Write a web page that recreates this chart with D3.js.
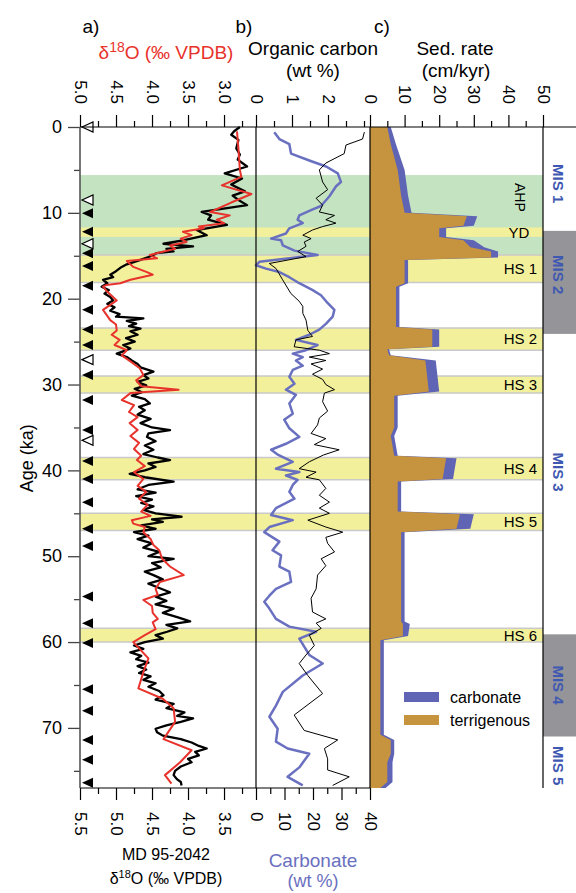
<!DOCTYPE html>
<html><head><meta charset="utf-8">
<script src="https://cdn.jsdelivr.net/npm/d3@7"></script>
<style>body{margin:0;background:#fff} svg{display:block;font-family:'Liberation Sans',Arial,sans-serif}</style>
</head><body><svg id="c" width="576" height="893"></svg>
<script>
// ---------------- DATA ----------------
const ageTicks = [0,10,20,30,40,50,60,70];
const ageMinor = [5,15,25,35,45,55,65,75];

// planktonic d18O (red, top axis)
const redAge = [0.5,2.5,5.0,5.8,6.8,7.8,8.8,9.9,10.3,10.8,11.2,11.6,11.8,12.2,12.6,13.0,13.4,13.8,14.2,14.5,14.9,15.3,15.6,16.0,16.3,16.9,17.2,17.8,18.2,18.4,18.6,19.2,20.2,21.3,22.5,23.0,23.7,24.2,24.8,25.4,26.0,26.6,27.3,28.1,28.9,29.5,30.2,30.6,31.0,31.8,32.4,33.2,33.8,34.5,35.3,36.0,36.8,37.5,38.3,38.8,39.5,40.2,41.0,41.8,42.5,43.3,44.0,44.8,45.3,45.8,46.2,46.6,47.2,48.0,48.7,49.3,50.3,51.2,52.2,53.0,53.8,54.5,55.1,55.8,56.6,57.3,57.7,58.5,59.2,60.0,61.9,63.5,65.4,66.6,67.7,69.3,71.3,72.6,74.0,75.5,76.5];
const redD18O = [2.82,2.80,2.78,2.76,3.03,2.62,2.90,3.19,2.92,3.10,3.00,3.35,3.28,3.57,3.45,3.60,3.52,3.75,3.68,3.84,4.03,3.93,4.35,4.30,4.26,4.07,3.99,4.30,4.44,4.63,4.68,4.62,4.49,4.68,4.58,4.50,4.49,4.56,4.45,4.52,4.35,4.42,4.30,4.17,4.12,4.22,4.15,3.63,4.30,4.42,4.25,4.32,4.20,4.31,4.20,4.30,4.18,4.25,4.15,4.21,4.10,4.25,4.12,4.20,4.08,4.18,4.06,4.15,4.02,4.28,4.26,4.10,4.12,4.02,3.98,3.90,3.86,3.75,3.56,3.89,3.95,3.92,4.12,4.00,3.99,3.92,3.99,3.95,4.10,4.26,4.05,4.12,4.19,3.85,3.70,3.68,3.84,3.45,3.61,3.82,3.73];

// MD 95-2042 d18O (black, bottom axis)
const blackAge = [0.0,0.5,0.9,1.5,2.5,3.2,3.8,4.6,5.4,6.0,6.7,7.5,8.0,8.5,9.1,9.9,10.3,10.8,11.4,12.0,12.6,13.2,13.6,13.9,14.2,14.5,14.7,15.0,15.5,16.0,16.4,16.8,17.2,17.5,17.8,18.2,18.6,19.0,19.4,19.8,20.2,20.6,21.0,21.4,21.8,22.1,22.3,22.6,22.9,23.2,23.5,23.8,24.2,24.6,25.0,25.4,25.8,26.2,26.4,26.8,27.2,27.6,28.0,28.5,28.9,29.3,29.7,30.1,30.5,30.9,31.3,31.7,32.2,32.6,33.0,33.5,34.0,34.5,35.0,35.3,35.7,36.1,36.6,37.1,37.6,38.1,38.5,38.8,39.2,39.6,40.0,40.4,40.8,41.3,41.7,42.2,42.6,43.0,43.4,43.8,44.2,44.6,45.0,45.4,45.7,46.0,46.4,46.8,47.2,47.6,48.0,48.5,49.0,49.5,50.0,50.3,50.8,51.3,51.8,52.2,52.7,53.2,53.7,54.2,54.7,55.2,55.6,56.1,56.6,57.1,57.6,58.0,58.4,58.8,59.2,59.6,60.0,60.4,60.8,61.2,61.6,62.0,62.4,62.8,63.2,63.6,64.0,64.4,64.8,65.2,65.7,66.2,66.7,67.2,67.7,68.2,68.6,68.9,69.3,69.7,70.1,70.5,70.9,71.3,71.7,72.1,72.4,72.8,73.2,73.6,74.0,74.5,75.0,75.5,76.0,76.3,76.7];
const blackD18O = [3.28,3.36,3.40,3.30,3.33,3.28,3.31,3.18,3.49,3.25,3.40,3.21,3.38,3.30,3.18,3.81,3.68,3.72,3.46,3.88,3.74,4.07,4.34,3.93,4.30,4.20,4.44,4.50,4.67,4.85,4.94,5.00,5.08,5.04,5.18,5.12,5.20,5.10,5.16,5.08,5.04,5.12,5.02,5.08,4.95,5.00,4.62,4.85,4.72,4.82,4.66,4.80,4.70,4.86,4.74,4.90,4.80,4.92,4.99,4.85,4.78,4.70,4.66,4.48,4.62,4.55,4.70,4.58,4.74,4.64,4.78,4.60,4.53,4.68,4.60,4.70,4.52,4.66,4.50,4.25,4.55,4.57,4.45,4.60,4.48,4.62,4.42,4.25,4.55,4.45,4.60,4.81,4.60,4.20,4.55,4.70,4.45,4.72,4.50,4.65,4.48,4.62,4.45,4.09,4.50,4.35,4.65,4.45,4.75,4.55,4.70,4.50,4.62,4.40,4.55,4.20,4.50,4.38,4.60,4.48,4.35,4.55,4.40,4.25,4.45,4.30,4.45,4.20,4.35,4.15,3.97,4.30,4.15,4.29,4.45,4.35,4.60,4.75,4.62,4.80,4.65,4.72,4.55,4.70,4.58,4.68,4.52,4.62,4.45,4.55,4.40,4.34,4.45,4.20,4.30,4.05,4.15,3.93,4.10,4.30,4.45,4.43,4.35,4.10,3.95,3.85,3.74,3.90,3.85,4.00,3.95,4.10,4.18,4.20,4.15,4.10,4.09];

// Organic carbon (wt %)
const tocAge = [0.6,1.4,2.1,3.1,4.2,5.0,6.4,7.3,8.3,9.1,9.9,10.3,10.8,11.2,11.6,12.0,12.6,13.0,13.4,13.9,14.5,15.1,15.9,16.5,17.8,19.4,20.3,20.9,21.7,22.5,23.7,24.4,24.8,25.6,26.0,26.4,26.8,27.2,27.6,28.2,28.8,29.4,30.0,30.6,31.0,32.0,33.1,33.9,34.7,35.7,36.3,37.0,37.6,38.2,39.0,39.8,40.2,40.8,41.1,42.1,42.9,43.7,44.4,45.0,45.8,46.6,47.2,47.8,48.5,49.5,50.3,51.1,52.2,53.8,54.9,56.5,57.3,57.8,58.4,59.2,60.4,61.5,62.5,63.9,66.0,68.5,70.3,71.4,72.4,73.6,74.9,75.7,76.7];
const tocVal = [3.01,2.96,2.50,2.45,1.94,1.76,1.85,1.99,1.67,1.85,1.76,2.18,1.94,2.22,1.85,1.57,1.30,1.53,1.34,1.39,1.16,1.39,0.37,0.56,0.74,0.97,1.20,1.30,1.30,1.39,1.44,1.57,1.11,1.06,1.76,2.04,1.48,1.94,1.53,1.85,1.57,1.85,1.94,2.18,1.90,1.85,1.99,1.76,1.71,1.53,1.94,1.62,2.31,1.88,1.48,1.20,1.67,1.39,1.76,1.94,1.76,2.04,1.76,2.04,1.44,1.94,2.41,1.94,1.99,2.18,1.81,1.94,1.71,1.67,1.53,1.57,1.94,1.67,1.81,1.48,1.62,1.39,1.20,1.44,1.85,1.06,1.34,2.27,1.90,1.99,1.99,2.59,2.13];

// Carbonate (wt %)
const carbAge = [0.6,1.4,2.0,3.1,3.9,4.6,5.4,6.4,6.9,8.1,9.2,9.6,10.3,10.8,11.2,11.8,12.4,13.0,13.2,13.8,14.4,14.9,15.3,15.7,16.1,16.5,16.9,17.5,18.2,19.0,19.6,20.3,21.3,22.1,22.9,23.6,24.2,24.8,25.4,26.0,26.4,26.8,27.2,27.8,28.3,29.1,29.9,30.6,31.2,32.2,33.4,34.1,35.1,36.1,36.9,37.6,38.2,39.0,39.8,40.2,40.6,41.1,41.7,42.5,43.3,44.4,45.2,45.8,46.6,47.2,48.3,49.3,49.9,51.2,51.8,53.0,53.8,54.6,55.3,56.1,57.3,58.2,58.8,59.6,61.5,62.5,63.9,65.8,67.4,68.7,70.1,71.6,72.4,73.0,74.6,75.7,76.7];
const carbVal = [6.4,8.2,11.7,12.3,18.7,24.6,28.7,29.8,28.1,25.7,22.8,19.9,15.2,14.6,16.4,11.7,10.5,5.3,8.8,9.4,13.5,21.6,11.7,1.2,0.0,3.5,8.2,11.7,15.2,19.9,22.8,24.6,27.5,26.9,24.6,22.2,18.7,14.0,21.6,17.5,12.9,16.4,14.0,16.4,12.9,11.7,13.5,10.5,14.0,11.7,12.9,9.9,11.7,15.2,10.5,5.3,7.8,12.9,7.0,15.2,10.5,14.6,12.9,11.7,13.5,7.0,5.3,12.9,4.7,2.9,8.2,5.8,8.8,8.2,11.7,12.3,7.0,4.7,2.9,4.7,7.0,11.7,21.1,15.2,18.7,23.4,16.4,9.4,7.0,4.7,7.6,7.0,11.1,18.7,15.2,11.1,16.4];

// Sedimentation rate (cm/kyr)
const sedAge   = [0,2,5,8,10.0,10.4,11.5,11.8,12.8,13.2,14.0,14.5,15.2,15.5,18.2,18.6,23.3,23.6,25.6,25.9,26.6,27.2,30.8,31.3,35.0,36.0,38.3,38.6,41.0,41.3,44.8,45.1,46.8,47.2,57.6,57.9,59.3,59.8,70.8,71.4,73.0,74.0,76.3,77];
const sedTerr  = [5,6,8,9,10,28,27,20,20,27,29,35,35,10,10,7.5,7.5,18,18,5,5.5,16,17,7,7,6,7,22,21,8,8,26,25,9,9,9.5,9.5,3,3,6,6,5,5,3];
const sedTotal = [6,7.5,10,11,12,31,30,22,22,30,33,37,37,11,11,8.5,8.5,20,20,5.5,6,19,20,8,8,7,8,25,24,9,9,30,29,10,10,11.5,11,4,4,7,7,6.5,6.5,4.5];

// Age control points
const tieFilled = [10.06,12.2,14.7,16.2,18.5,21.3,23.6,25.4,28.9,31.8,35.3,38.9,41.0,43.7,46.8,48.8,54.7,57.8,60.1,65.5,68.0,71.4,73.7,76.4];
const tieOpen = [0,8.5,13.6,27.1,36.5];

// Event bands
const bandNames = ['AHP','YD','HS 1','HS 2','HS 3','HS 4','HS 5','HS 6'];
const bandStart = [5.6,11.7,14.9,23.4,29.0,38.5,45.0,58.4];
const bandEnd   = [14.9,12.8,18.1,26.0,31.0,41.1,47.0,60.0];
const bandKind  = ['green','yellow','yellow','yellow','yellow','yellow','yellow','yellow'];

// Marine isotope stages
const misNames = ['MIS 1','MIS 2','MIS 3','MIS 4','MIS 5'];
const misStart = [0,12.1,24.1,59.1,71.0];
const misEnd   = [12.1,24.1,59.1,71.0,77];
const misShade = [false,true,false,true,false];
const misLabelAge = [6.6,17.2,40.2,65.0,74.4];

const redTicks = [5.0,4.5,4.0,3.5,3.0];
const redMinor = [4.75,4.25,3.75,3.25,2.75];
const blackTicks = [5.5,5.0,4.5,4.0,3.5];
const blackMinor = [5.25,4.75,4.25,3.75,3.25];
const tocTicks = [0,1,2];
const tocMinor = [0.5,1.5,2.5,3];
const carbTicks = [0,10,20,30,40];
const carbMinor = [5,15,25,35];
const sedTicks = [0,10,20,30,40,50];
const sedMinor = [5,15,25,35,45];

// ---------------- DRAW ----------------
const svg = d3.select('#c');
const TOP = 127, BOT = 788;
const y = d3.scaleLinear().domain([0,77]).range([TOP,BOT]);
const xRed = d3.scaleLinear().domain([5.0,2.556]).range([80,256]);
const xBlack = d3.scaleLinear().domain([5.5,3.056]).range([80,256]);
const xToc = d3.scaleLinear().domain([0,3.1667]).range([256,370]);
const xCarb = d3.scaleLinear().domain([0,40]).range([256,370]);
const xSed = d3.scaleLinear().domain([0,50]).range([370,543]);

const GREEN = '#c3e3c1', YELLOW = '#f3f09c', EDGE = '#c9c9c9';
const RED = '#e8322c', BLUE_LINE = '#6a70c0', BLUE_FILL = '#5f64b5', BROWN = '#c6943e';
const MIS_GRAY = '#949499', MIS_BLUE = '#3f58b2';

// bands
const bands = svg.append('g');
bandNames.forEach((n,i)=>{
  bands.append('rect').attr('x',80).attr('width',543-80)
    .attr('y',y(bandStart[i])).attr('height',y(bandEnd[i])-y(bandStart[i]))
    .attr('fill', bandKind[i]==='green'?GREEN:YELLOW);
});
bandNames.forEach((n,i)=>{
  if (bandKind[i]==='yellow' && n!=='YD') {
    [bandStart[i],bandEnd[i]].forEach(a=>bands.append('line').attr('x1',80).attr('x2',543)
      .attr('y1',y(a)).attr('y2',y(a)).attr('stroke',EDGE).attr('stroke-width',1.5));
  }
});

// MIS column
misNames.forEach((n,i)=>{
  if (misShade[i]) svg.append('rect').attr('x',543).attr('width',33)
    .attr('y',y(misStart[i])).attr('height',y(misEnd[i])-y(misStart[i])).attr('fill',MIS_GRAY);
  svg.append('text').attr('transform',`translate(558,${y(misLabelAge[i])}) rotate(90)`)
    .attr('text-anchor','middle').attr('dy','0.35em').attr('font-size',15).attr('font-weight','bold')
    .attr('fill',MIS_BLUE).text(n);
});

// sed rate areas
const areaTot = d3.area().y(d=>y(d[0])).x0(xSed(0)).x1(d=>xSed(d[1]));
svg.append('path').datum(sedAge.map((a,i)=>[a,sedTotal[i]])).attr('d',areaTot).attr('fill',BLUE_FILL);
svg.append('path').datum(sedAge.map((a,i)=>[a,sedTerr[i]])).attr('d',areaTot).attr('fill',BROWN);

// band labels
bandNames.forEach((n,i)=>{
  const cy = y((bandStart[i]+bandEnd[i])/2);
  if (n==='AHP') {
    svg.append('text').attr('transform',`translate(520,${y(8.2)}) rotate(90)`).attr('text-anchor','middle')
      .attr('dy','0.35em').attr('font-size',14).text(n);
  } else if (n==='YD') {
    svg.append('text').attr('x',519).attr('y',cy).attr('dy','0.36em').attr('text-anchor','middle').attr('font-size',15).text(n);
  } else {
    svg.append('text').attr('x',537).attr('y',cy).attr('dy','0.36em').attr('text-anchor','end').attr('font-size',15).text(n);
  }
});

// lines
const lineGen = (xs)=>d3.line().x(d=>xs(d[1])).y(d=>y(d[0]));
svg.append('path').datum(blackAge.map((a,i)=>[a,blackD18O[i]])).attr('d',lineGen(xBlack))
  .attr('fill','none').attr('stroke','#000').attr('stroke-width',2.3).attr('stroke-linejoin','round');
svg.append('path').datum(redAge.map((a,i)=>[a,redD18O[i]])).attr('d',lineGen(xRed))
  .attr('fill','none').attr('stroke',RED).attr('stroke-width',2).attr('stroke-linejoin','round');
svg.append('path').datum(carbAge.map((a,i)=>[a,carbVal[i]])).attr('d',lineGen(xCarb))
  .attr('fill','none').attr('stroke',BLUE_LINE).attr('stroke-width',2.5).attr('stroke-linejoin','round');
svg.append('path').datum(tocAge.map((a,i)=>[a,tocVal[i]])).attr('d',lineGen(xToc))
  .attr('fill','none').attr('stroke','#000').attr('stroke-width',1);

// tie points
const tri = a=>{const yy=y(a);return `M82,${yy}L93,${yy-5}L93,${yy+5}Z`;};
tieFilled.forEach(a=>svg.append('path').attr('d',tri(a)).attr('fill','#000'));
tieOpen.forEach(a=>svg.append('path').attr('d',tri(a)).attr('fill','#fff').attr('stroke','#000').attr('stroke-width',1.2));

// frame lines
const fl = (x1,y1,x2,y2,c='#000',w=1.2)=>svg.append('line').attr('x1',x1).attr('y1',y1).attr('x2',x2).attr('y2',y2).attr('stroke',c).attr('stroke-width',w);
fl(256,TOP,256,BOT);
fl(370,TOP,370,BOT);
fl(543,TOP,543,BOT);
fl(80,TOP,576,TOP);
fl(80,BOT,370,BOT);

// axes helpers
function styleAxis(g){ g.select('.domain').remove(); g.selectAll('line').attr('stroke','#000').attr('stroke-width',1.2); }
function topAxis(scale, majors, minors, fmt){
  const gm = svg.append('g').attr('transform',`translate(0,${TOP})`).call(d3.axisTop(scale).tickValues(minors).tickSize(6).tickFormat(''));
  styleAxis(gm);
  const g = svg.append('g').attr('transform',`translate(0,${TOP})`).call(d3.axisTop(scale).tickValues(majors).tickSize(12).tickFormat(fmt));
  styleAxis(g);
  g.selectAll('text').attr('transform','rotate(90)').attr('x',-23).attr('y',0).attr('dy','0.35em')
    .attr('text-anchor','end').attr('font-size',17).attr('fill','#000').attr('font-family',null);
}
function botAxis(scale, majors, minors, fmt){
  const gm = svg.append('g').attr('transform',`translate(0,${BOT})`).call(d3.axisBottom(scale).tickValues(minors).tickSize(6).tickFormat(''));
  styleAxis(gm);
  const g = svg.append('g').attr('transform',`translate(0,${BOT})`).call(d3.axisBottom(scale).tickValues(majors).tickSize(12).tickFormat(fmt));
  styleAxis(g);
  g.selectAll('text').attr('transform','rotate(90)').attr('x',24).attr('y',0).attr('dy','0.35em')
    .attr('text-anchor','start').attr('font-size',17).attr('fill','#000').attr('font-family',null);
}
topAxis(xRed, redTicks, redMinor, d3.format('.1f'));
topAxis(xToc, tocTicks, tocMinor, d3.format('d'));
topAxis(xSed, sedTicks, sedMinor, d3.format('d'));
botAxis(xBlack, blackTicks, blackMinor, d3.format('.1f'));
botAxis(xCarb, carbTicks, carbMinor, d3.format('d'));

// left age axis
const gMin = svg.append('g').attr('transform','translate(80,0)').call(d3.axisLeft(y).tickValues(ageMinor).tickSize(6).tickFormat(''));
gMin.select('.domain').remove(); gMin.selectAll('line').attr('stroke','#444').attr('stroke-width',1.3);
const gAge = svg.append('g').attr('transform','translate(80,0)').call(d3.axisLeft(y).tickValues(ageTicks).tickSize(12).tickPadding(6));
gAge.select('.domain').remove();
gAge.selectAll('line').attr('stroke','#444').attr('stroke-width',1.3);
gAge.selectAll('text').attr('font-size',18).attr('fill','#000').attr('font-family',null);
fl(80,TOP,80,BOT,'#555',1.6);

// titles
const t = (x,yy,s,opts={})=>{const e=svg.append('text').attr('x',x).attr('y',yy).attr('text-anchor',opts.anchor||'middle')
  .attr('font-size',opts.size||18).attr('fill',opts.fill||'#000'); e.text(s); return e;};
t(91,33,'a)',{size:19});
t(244,33,'b)',{size:19});
t(382,33,'c)',{size:19});
const d1 = t(166,59,'',{fill:RED,size:19});
d1.append('tspan').text('δ');
d1.append('tspan').attr('dy',-7).attr('font-size',14).text('18');
d1.append('tspan').attr('dy',7).text('O (‰ VPDB)');
t(313,55,'Organic carbon',{size:19});
t(313,77,'(wt %)',{size:19});
t(455,55,'Sed. rate',{size:19});
t(456,77,'(cm/kyr)',{size:19});
t(166,860,'MD 95-2042',{size:16});
const d2 = t(166,884,'',{size:16});
d2.append('tspan').text('δ');
d2.append('tspan').attr('dy',-6).attr('font-size',11).text('18');
d2.append('tspan').attr('dy',6).text('O (‰ VPDB)');
t(313,867,'Carbonate',{size:19,fill:'#6a70c0'});
t(313,887,'(wt %)',{size:18,fill:'#6a70c0'});
svg.append('text').attr('transform',`translate(27,${y(38.6)}) rotate(-90)`).attr('text-anchor','middle')
  .attr('dy','0.35em').attr('font-size',18).text('Age (ka)');

// legend
const lg = [['carbonate',BLUE_FILL,697],['terrigenous',BROWN,720]];
lg.forEach(d=>{
  svg.append('rect').attr('x',404).attr('y',d[2]-5).attr('width',35).attr('height',10).attr('fill',d[1]);
  svg.append('text').attr('x',450).attr('y',d[2]).attr('dy','0.35em').attr('font-size',16).text(d[0]);
});
</script></body></html>
